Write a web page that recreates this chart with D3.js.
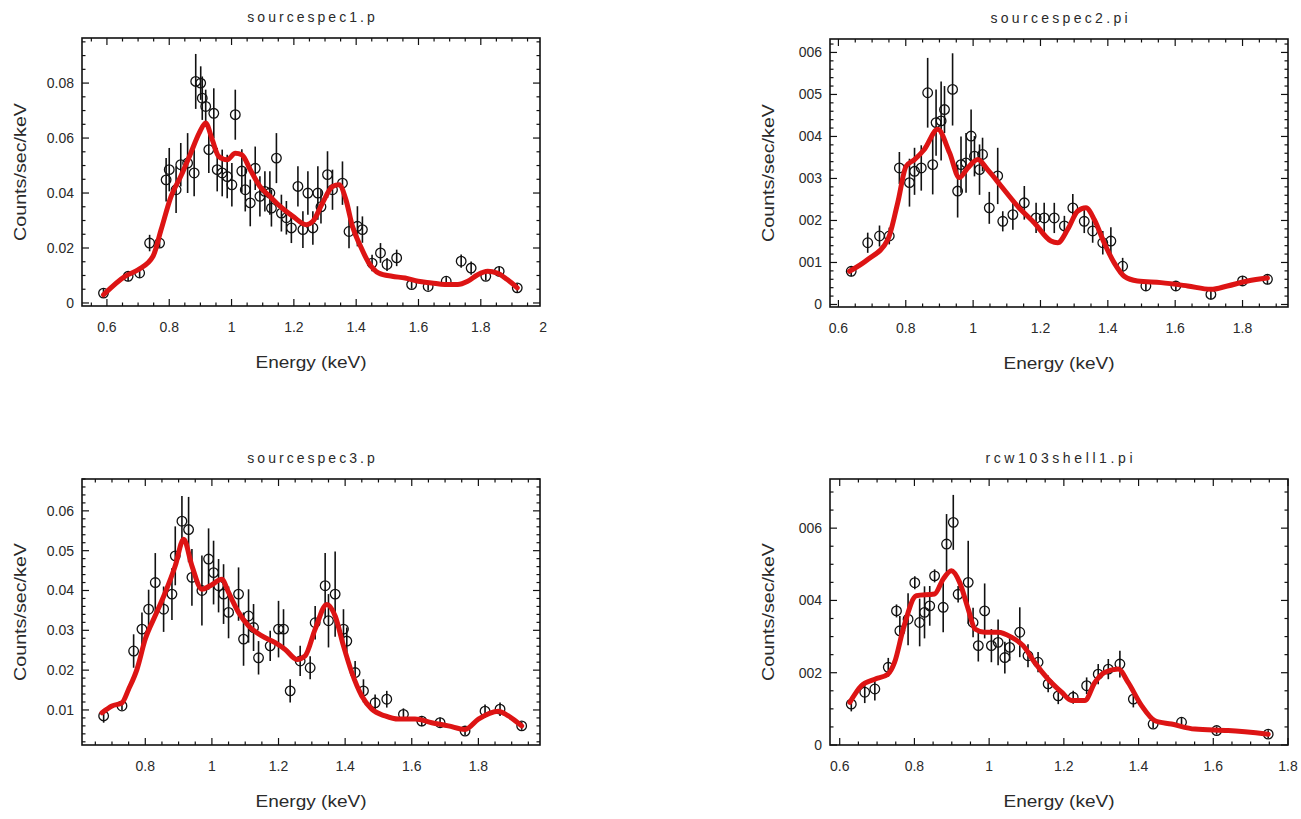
<!DOCTYPE html>
<html>
  <head>
    <meta charset="utf-8" />
    <title>X-ray spectra</title>
    <script src="https://d3js.org/d3.v7.min.js"></script>
    <style>
      body {
        margin: 0;
        background: #fff;
      }
      svg text {
        font-family: "Liberation Sans", Arial, sans-serif;
        fill: #2a2a2a;
      }
      .frame {
        fill: none;
        stroke: #111;
        stroke-width: 1.6px;
      }
      .tick {
        stroke: #111;
        stroke-width: 1.2px;
      }
      .err {
        stroke: #111;
        stroke-width: 1.6px;
      }
      .pt {
        fill: none;
        stroke: #111;
        stroke-width: 1.3px;
      }
      .model {
        fill: none;
        stroke: #dd1414;
        stroke-width: 5px;
        stroke-linejoin: round;
        stroke-linecap: round;
      }
    </style>
  </head>
  <body>
    <svg width="1301" height="819"></svg>
    <script>
      const svg = d3.select("svg");

      // -------------------- data --------------------
      const titles = ["sourcespec1.p", "sourcespec2.pi", "sourcespec3.p", "rcw103shell1.pi"];

      // sourcespec1: energy (keV), counts/sec/keV, error
      const s1E = [0.589, 0.668, 0.705, 0.737, 0.769, 0.79, 0.8, 0.822, 0.837, 0.859, 0.88, 0.885, 0.901, 0.906, 0.917, 0.927, 0.943, 0.954, 0.97, 0.986, 1.001, 1.012, 1.033, 1.044, 1.06, 1.076, 1.091, 1.107, 1.123, 1.128, 1.144, 1.16, 1.176, 1.192, 1.213, 1.229, 1.245, 1.261, 1.277, 1.287, 1.308, 1.324, 1.356, 1.377, 1.404, 1.42, 1.451, 1.478, 1.499, 1.53, 1.578, 1.631, 1.689, 1.737, 1.769, 1.816, 1.859, 1.917];
      const s1Y = [0.0036, 0.0097, 0.0109, 0.0218, 0.0218, 0.0448, 0.0485, 0.0412, 0.0503, 0.0509, 0.0473, 0.0806, 0.08, 0.0745, 0.0715, 0.0558, 0.069, 0.0485, 0.0473, 0.046, 0.043, 0.0685, 0.048, 0.0412, 0.0364, 0.049, 0.0388, 0.0406, 0.04, 0.0345, 0.0527, 0.0327, 0.031, 0.0273, 0.0424, 0.0267, 0.04, 0.0273, 0.04, 0.035, 0.0467, 0.0412, 0.0436, 0.026, 0.0279, 0.0267, 0.0145, 0.0182, 0.014, 0.0164, 0.0067, 0.006, 0.0079, 0.0152, 0.0127, 0.0097, 0.0115, 0.0055];
      const s1Err = [0.0018, 0.0018, 0.0018, 0.003, 0.0015, 0.0079, 0.0079, 0.0085, 0.0079, 0.0109, 0.0085, 0.01, 0.0061, 0.0079, 0.0061, 0.0085, 0.0091, 0.0079, 0.0085, 0.0079, 0.0079, 0.0091, 0.0079, 0.0079, 0.0085, 0.0079, 0.0073, 0.0073, 0.0079, 0.0067, 0.0091, 0.0067, 0.0061, 0.0055, 0.0073, 0.0067, 0.0079, 0.0061, 0.0097, 0.0061, 0.0085, 0.0073, 0.0079, 0.0061, 0.0073, 0.0048, 0.003, 0.0036, 0.0024, 0.003, 0.0015, 0.0015, 0.0015, 0.0024, 0.0024, 0.0015, 0.0018, 0.0015];
      const m1E = [0.589, 0.658, 0.7, 0.748, 0.774, 0.806, 0.837, 0.869, 0.896, 0.917, 0.938, 0.959, 0.986, 1.012, 1.033, 1.06, 1.091, 1.123, 1.155, 1.197, 1.24, 1.261, 1.292, 1.324, 1.345, 1.367, 1.388, 1.414, 1.441, 1.472, 1.515, 1.557, 1.599, 1.642, 1.684, 1.726, 1.758, 1.79, 1.822, 1.853, 1.885, 1.917];
      const m1Y = [0.003, 0.0097, 0.0121, 0.017, 0.0267, 0.0388, 0.0461, 0.0545, 0.0618, 0.0655, 0.0594, 0.0533, 0.0521, 0.0545, 0.0539, 0.0485, 0.0424, 0.0388, 0.0352, 0.0315, 0.0285, 0.0297, 0.0364, 0.0424, 0.043, 0.0376, 0.0279, 0.0206, 0.0145, 0.0109, 0.0097, 0.0091, 0.0079, 0.0073, 0.0067, 0.0067, 0.0079, 0.0103, 0.0115, 0.0109, 0.0085, 0.0055];

      // sourcespec2
      const s2E = [0.638, 0.687, 0.722, 0.751, 0.781, 0.811, 0.826, 0.846, 0.865, 0.88, 0.89, 0.905, 0.915, 0.939, 0.954, 0.964, 0.979, 0.994, 1.004, 1.019, 1.028, 1.048, 1.073, 1.088, 1.118, 1.152, 1.187, 1.211, 1.241, 1.271, 1.296, 1.33, 1.355, 1.385, 1.409, 1.444, 1.513, 1.602, 1.706, 1.8, 1.874];
      const s2Y = [0.00079, 0.00147, 0.00163, 0.00163, 0.00325, 0.0029, 0.00317, 0.00325, 0.00504, 0.00333, 0.00433, 0.00437, 0.00464, 0.00512, 0.0027, 0.00333, 0.00337, 0.00401, 0.00353, 0.00321, 0.00357, 0.0023, 0.00306, 0.00198, 0.00214, 0.00242, 0.00206, 0.00206, 0.00206, 0.00187, 0.0023, 0.00198, 0.00175, 0.00147, 0.00151, 0.00091, 0.00044, 0.00044, 0.00024, 0.00056, 0.0006];
      const s2Err = [0.00012, 0.00024, 0.00025, 0.0002, 0.00038, 0.00057, 0.00056, 0.00054, 0.00083, 0.00071, 0.00079, 0.00094, 0.00056, 0.00086, 0.00063, 0.00067, 0.00071, 0.00063, 0.00048, 0.0006, 0.0004, 0.00038, 0.00067, 0.00024, 0.00036, 0.0004, 0.00036, 0.00036, 0.00036, 0.00024, 0.00033, 0.00028, 0.00028, 0.00028, 0.00033, 0.0002, 0.00012, 0.00012, 0.00012, 0.00012, 0.00012];
      const m2E = [0.633, 0.687, 0.747, 0.776, 0.801, 0.826, 0.855, 0.895, 0.93, 0.959, 0.984, 1.014, 1.043, 1.083, 1.132, 1.182, 1.231, 1.251, 1.281, 1.31, 1.335, 1.36, 1.389, 1.419, 1.449, 1.488, 1.558, 1.637, 1.706, 1.755, 1.815, 1.874];
      const m2Y = [0.00079, 0.00107, 0.00155, 0.00242, 0.00329, 0.00345, 0.00369, 0.00417, 0.00361, 0.00302, 0.00325, 0.00345, 0.00321, 0.00282, 0.00234, 0.00194, 0.00151, 0.00147, 0.00179, 0.00222, 0.0023, 0.00202, 0.00147, 0.00099, 0.00067, 0.00056, 0.00052, 0.00044, 0.00036, 0.00044, 0.00056, 0.00063];

      // sourcespec3
      const s3E = [0.675, 0.73, 0.765, 0.79, 0.81, 0.83, 0.855, 0.88, 0.89, 0.91, 0.93, 0.94, 0.97, 0.99, 1.005, 1.02, 1.035, 1.05, 1.08, 1.095, 1.11, 1.125, 1.14, 1.175, 1.2, 1.215, 1.235, 1.265, 1.295, 1.31, 1.34, 1.35, 1.37, 1.395, 1.405, 1.43, 1.455, 1.49, 1.525, 1.575, 1.63, 1.685, 1.76, 1.82, 1.865, 1.93];
      const s3Y = [0.0085, 0.011, 0.0248, 0.0303, 0.0353, 0.042, 0.0353, 0.0391, 0.0487, 0.0574, 0.0553, 0.0433, 0.04, 0.0479, 0.0445, 0.0412, 0.0391, 0.0345, 0.0391, 0.0278, 0.0336, 0.0307, 0.0231, 0.0261, 0.0303, 0.0303, 0.0148, 0.0223, 0.0206, 0.0319, 0.0412, 0.0324, 0.0391, 0.0303, 0.0273, 0.0194, 0.0148, 0.0118, 0.0127, 0.0089, 0.0072, 0.0068, 0.0047, 0.0097, 0.0102, 0.006];
      const s3Err = [0.0017, 0.001, 0.0042, 0.0042, 0.0049, 0.0074, 0.0057, 0.0065, 0.0074, 0.0063, 0.0082, 0.0071, 0.0088, 0.0077, 0.008, 0.0067, 0.0075, 0.0065, 0.0067, 0.0067, 0.0067, 0.0059, 0.0042, 0.0038, 0.0071, 0.005, 0.0029, 0.0038, 0.0029, 0.0042, 0.0082, 0.0067, 0.0107, 0.005, 0.0034, 0.0029, 0.0029, 0.0021, 0.0021, 0.0015, 0.0013, 0.0013, 0.001, 0.0017, 0.0017, 0.001];
      const m3E = [0.67, 0.7, 0.73, 0.75, 0.775, 0.8, 0.83, 0.86, 0.89, 0.915, 0.94, 0.97, 0.995, 1.03, 1.05, 1.08, 1.11, 1.15, 1.19, 1.22, 1.255, 1.28, 1.31, 1.345, 1.37, 1.395, 1.42, 1.45, 1.48, 1.52, 1.56, 1.61, 1.66, 1.71, 1.76, 1.8, 1.86, 1.89, 1.93];
      const m3Y = [0.0093, 0.011, 0.0118, 0.0152, 0.0202, 0.0278, 0.0337, 0.0395, 0.0462, 0.0529, 0.0462, 0.0403, 0.0412, 0.0428, 0.0395, 0.0345, 0.0311, 0.0286, 0.0269, 0.0252, 0.0227, 0.0236, 0.0303, 0.0365, 0.0336, 0.0261, 0.0194, 0.0135, 0.0102, 0.0085, 0.0077, 0.0077, 0.0068, 0.006, 0.0051, 0.0077, 0.0097, 0.0085, 0.006];

      // rcw103shell1
      const s4E = [0.631, 0.667, 0.694, 0.73, 0.752, 0.761, 0.783, 0.801, 0.814, 0.827, 0.841, 0.854, 0.877, 0.886, 0.904, 0.917, 0.944, 0.957, 0.971, 0.988, 1.006, 1.024, 1.042, 1.055, 1.082, 1.104, 1.131, 1.158, 1.185, 1.225, 1.261, 1.292, 1.319, 1.35, 1.386, 1.439, 1.515, 1.609, 1.747];
      const s4Y = [0.00113, 0.00146, 0.00155, 0.00215, 0.00371, 0.00316, 0.00348, 0.00449, 0.00339, 0.00367, 0.00385, 0.00468, 0.00381, 0.00556, 0.00616, 0.00417, 0.0045, 0.00339, 0.00275, 0.00371, 0.00275, 0.00284, 0.00242, 0.0027, 0.00312, 0.00247, 0.00229, 0.00169, 0.00136, 0.00132, 0.00164, 0.00196, 0.0021, 0.00224, 0.00127, 0.00058, 0.00063, 0.0004, 0.0003];
      const s4Err = [0.0002, 0.0003, 0.00032, 0.00026, 0.00018, 0.00041, 0.00072, 0.00018, 0.00066, 0.00072, 0.00055, 0.00018, 0.00069, 0.00083, 0.00076, 0.00023, 0.00115, 0.00041, 0.00044, 0.00076, 0.00046, 0.00063, 0.00044, 0.00037, 0.00069, 0.00032, 0.00028, 0.00023, 0.00023, 0.00018, 0.00023, 0.00028, 0.00028, 0.00037, 0.00023, 0.00011, 0.00014, 0.00011, 0.00011];
      const m4E = [0.627, 0.658, 0.694, 0.729, 0.747, 0.77, 0.805, 0.854, 0.877, 0.899, 0.921, 0.944, 0.962, 0.988, 1.024, 1.06, 1.091, 1.122, 1.158, 1.194, 1.221, 1.256, 1.283, 1.31, 1.346, 1.372, 1.408, 1.444, 1.488, 1.551, 1.64, 1.747];
      const m4Y = [0.00118, 0.00164, 0.00182, 0.00196, 0.00229, 0.00321, 0.00413, 0.00418, 0.00459, 0.00482, 0.0045, 0.00376, 0.00321, 0.00312, 0.00312, 0.00298, 0.00275, 0.00228, 0.00182, 0.00146, 0.00123, 0.00123, 0.00173, 0.00201, 0.0021, 0.00173, 0.00109, 0.00067, 0.00058, 0.00044, 0.0004, 0.0003];

      // tick values and labels
      const xTicks1 = [0.6, 0.8, 1, 1.2, 1.4, 1.6, 1.8, 2];
      const xTicks2 = [0.6, 0.8, 1, 1.2, 1.4, 1.6, 1.8];
      const xTicks3 = [0.8, 1, 1.2, 1.4, 1.6, 1.8];
      const xTicks4 = [0.6, 0.8, 1, 1.2, 1.4, 1.6, 1.8];
      const yTicks1 = [0, 0.02, 0.04, 0.06, 0.08];
      const yLabels1 = ["0", "0.02", "0.04", "0.06", "0.08"];
      const yTicks2 = [0, 0.001, 0.002, 0.003, 0.004, 0.005, 0.006];
      const yLabels2 = ["0", "001", "002", "003", "004", "005", "006"];
      const yTicks3 = [0.01, 0.02, 0.03, 0.04, 0.05, 0.06];
      const yLabels3 = ["0.01", "0.02", "0.03", "0.04", "0.05", "0.06"];
      const yTicks4 = [0, 0.002, 0.004, 0.006];
      const yLabels4 = ["0", "002", "004", "006"];

      // -------------------- panels --------------------
      const panels = [
        { title: titles[0], box: [82, 540, 38, 306], xd: [0.52, 1.99], yd: [-0.0011, 0.0964],
          e: s1E, y: s1Y, err: s1Err, me: m1E, my: m1Y, xt: xTicks1, yt: yTicks1, yl: yLabels1, xm: 0.05, ym: 0.005 },
        { title: titles[1], box: [830, 1288, 39, 307], xd: [0.575, 1.935], yd: [-0.00006, 0.00632],
          e: s2E, y: s2Y, err: s2Err, me: m2E, my: m2Y, xt: xTicks2, yt: yTicks2, yl: yLabels2, xm: 0.05, ym: 0.0002 },
        { title: titles[2], box: [82, 540, 479, 745], xd: [0.61, 1.985], yd: [0.0012, 0.068],
          e: s3E, y: s3Y, err: s3Err, me: m3E, my: m3Y, xt: xTicks3, yt: yTicks3, yl: yLabels3, xm: 0.05, ym: 0.002 },
        { title: titles[3], box: [830, 1288, 479, 745], xd: [0.574, 1.8], yd: [0, 0.00736],
          e: s4E, y: s4Y, err: s4Err, me: m4E, my: m4Y, xt: xTicks4, yt: yTicks4, yl: yLabels4, xm: 0.05, ym: 0.0005 },
      ];

      panels.forEach(drawPanel);

      function steps(d0, d1, step) {
        const out = [];
        for (let v = Math.ceil(d0 / step - 1e-6) * step; v <= d1 + 1e-9; v += step) out.push(+v.toFixed(6));
        return out;
      }

      function drawPanel(p) {
        const [x0, x1, y0, y1] = p.box;
        const x = d3.scaleLinear().domain(p.xd).range([x0, x1]);
        const y = d3.scaleLinear().domain(p.yd).range([y1, y0]);
        const g = svg.append("g");
        const cx = (x0 + x1) / 2;

        // ticks, inward on all four sides
        const xMinor = steps(p.xd[0], p.xd[1], p.xm);
        const yMinor = steps(p.yd[0], p.yd[1], p.ym);
        const isMajor = (v, list) => list.some((t) => Math.abs(t - v) < 1e-6);

        xMinor.forEach((v) => {
          const len = isMajor(v, p.xt) || Math.abs(v * 5 - Math.round(v * 5)) < 1e-6 ? 7 : 3.5;
          g.append("line").attr("class", "tick").attr("x1", x(v)).attr("x2", x(v)).attr("y1", y1).attr("y2", y1 - len);
          g.append("line").attr("class", "tick").attr("x1", x(v)).attr("x2", x(v)).attr("y1", y0).attr("y2", y0 + len);
        });
        yMinor.forEach((v) => {
          const len = isMajor(v, p.yt) ? 7 : 3.5;
          g.append("line").attr("class", "tick").attr("x1", x0).attr("x2", x0 + len).attr("y1", y(v)).attr("y2", y(v));
          g.append("line").attr("class", "tick").attr("x1", x1).attr("x2", x1 - len).attr("y1", y(v)).attr("y2", y(v));
        });

        g.append("rect").attr("class", "frame")
          .attr("x", x0).attr("y", y0).attr("width", x1 - x0).attr("height", y1 - y0);

        // tick labels
        g.selectAll(".xl").data(p.xt).enter().append("text")
          .attr("x", (d) => x(d)).attr("y", y1 + 26)
          .attr("text-anchor", "middle").style("font-size", "14px")
          .text((d) => String(d));
        g.selectAll(".yl").data(p.yt).enter().append("text")
          .attr("x", x0 - 8).attr("y", (d) => y(d) + 5)
          .attr("text-anchor", "end").style("font-size", "14px")
          .text((d, i) => p.yl[i]);

        // titles
        g.append("text").attr("x", cx).attr("y", y0 - 16)
          .attr("text-anchor", "middle").style("font-size", "14px")
          .attr("textLength", p.title.length * 9.8).attr("lengthAdjust", "spacing")
          .text(p.title);
        g.append("text").attr("x", cx).attr("y", y1 + 62)
          .attr("text-anchor", "middle").style("font-size", "16px")
          .attr("textLength", 111).attr("lengthAdjust", "spacingAndGlyphs")
          .text("Energy (keV)");
        g.append("text")
          .attr("transform", `translate(${x0 - 56},${(y0 + y1) / 2}) rotate(-90)`)
          .attr("text-anchor", "middle").style("font-size", "16px")
          .attr("textLength", 138).attr("lengthAdjust", "spacingAndGlyphs")
          .text("Counts/sec/keV");

        // data points with error bars
        const pts = p.e.map((e, i) => ({ e: e, v: p.y[i], s: p.err[i] }));
        g.selectAll(".err").data(pts).enter().append("line").attr("class", "err")
          .attr("x1", (d) => x(d.e)).attr("x2", (d) => x(d.e))
          .attr("y1", (d) => y(d.v - d.s)).attr("y2", (d) => y(d.v + d.s));
        g.selectAll(".pt").data(pts).enter().append("circle").attr("class", "pt")
          .attr("cx", (d) => x(d.e)).attr("cy", (d) => y(d.v)).attr("r", 4.8);

        // model curve
        const line = d3.line().x((d) => x(d[0])).y((d) => y(d[1])).curve(d3.curveMonotoneX);
        g.append("path").attr("class", "model")
          .attr("d", line(p.me.map((e, i) => [e, p.my[i]])));
      }
    </script>
  </body>
</html>
